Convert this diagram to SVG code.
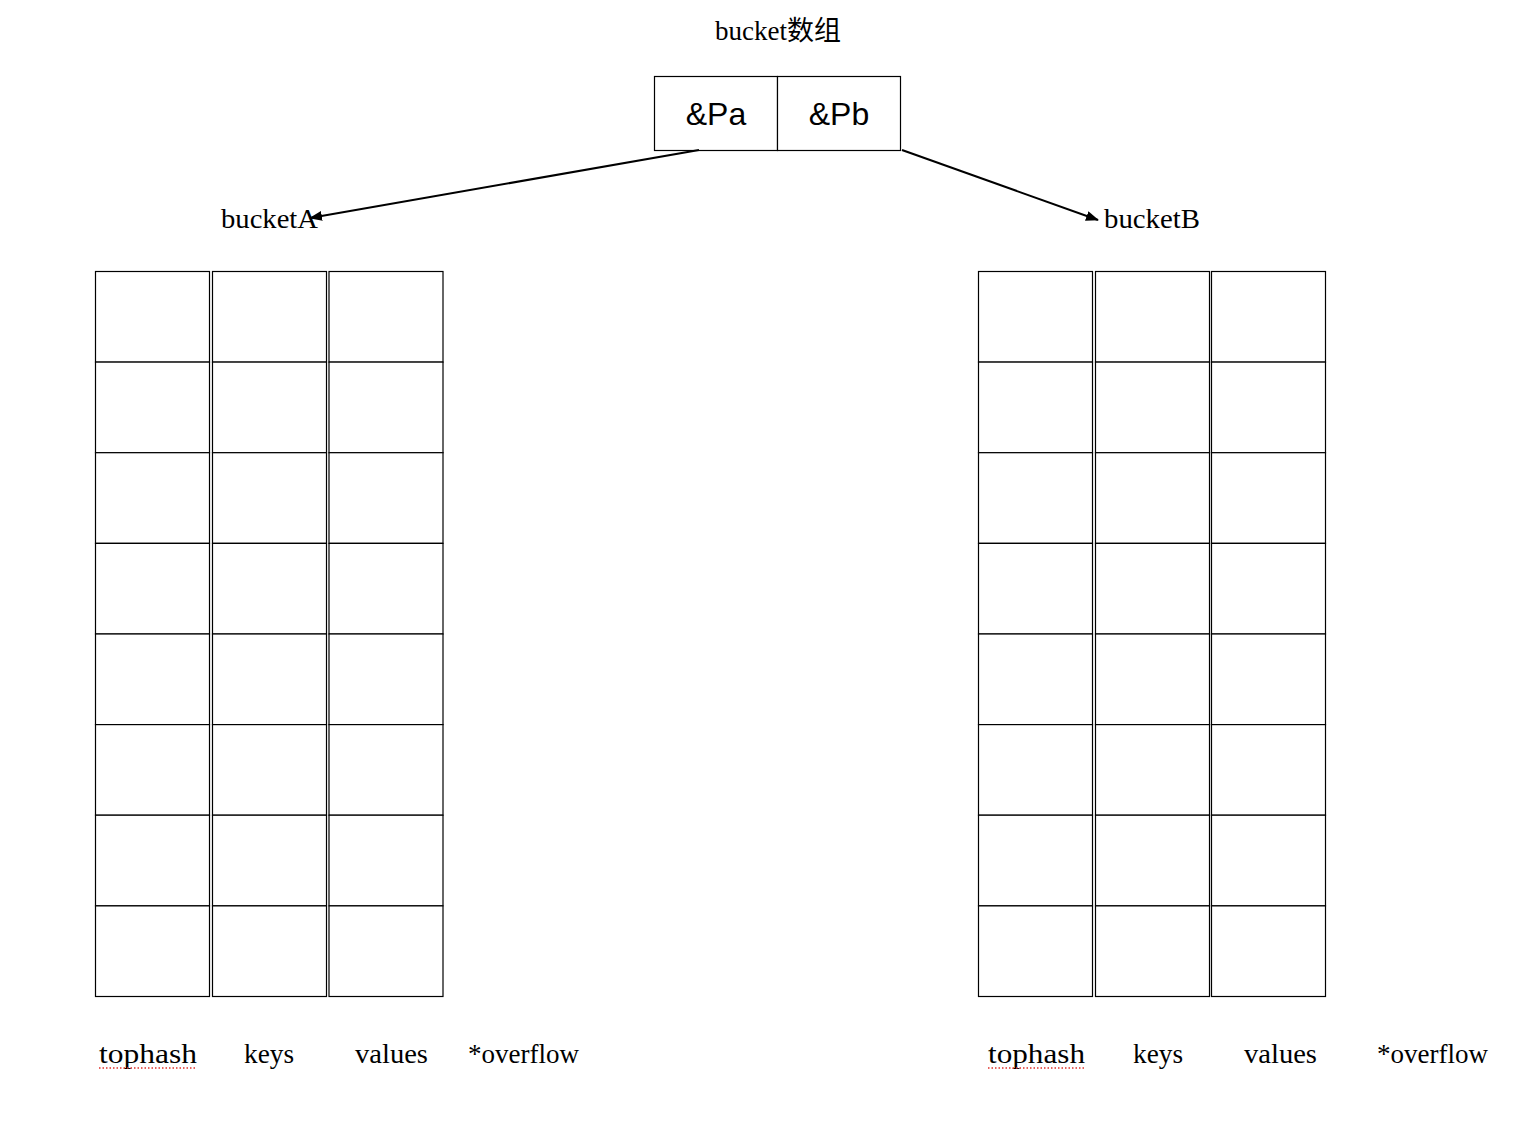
<svg xmlns="http://www.w3.org/2000/svg" width="1522" height="1126" viewBox="0 0 1522 1126">
<style>
.cell{fill:#fff;stroke:#000;stroke-width:1.2}
.lbl{font-family:"Liberation Serif","Noto Sans CJK SC",serif;font-size:27px;fill:#000}
.ptr{font-family:"Liberation Sans","DejaVu Sans",sans-serif;font-size:32px;fill:#000}
.conn{stroke:#000;stroke-width:2;fill:none}
.spell{stroke:#e0302a;stroke-width:1.5;stroke-dasharray:1.5 2;fill:none}
</style>
<defs>
<marker id="ah" viewBox="0 0 13 10" refX="12" refY="5" markerWidth="13" markerHeight="10" markerUnits="userSpaceOnUse" orient="auto">
<path d="M0,0 L13,5 L0,10 Z" fill="#000"/>
</marker>
<g id="colA">
<rect class="cell" x="0" y="0" width="114" height="90.6"/>
<rect class="cell" x="0" y="90.6" width="114" height="90.6"/>
<rect class="cell" x="0" y="181.2" width="114" height="90.6"/>
<rect class="cell" x="0" y="271.9" width="114" height="90.6"/>
<rect class="cell" x="0" y="362.5" width="114" height="90.6"/>
<rect class="cell" x="0" y="453.1" width="114" height="90.6"/>
<rect class="cell" x="0" y="543.7" width="114" height="90.6"/>
<rect class="cell" x="0" y="634.4" width="114" height="90.6"/>
</g>
</defs>

<g id="title">
<text class="lbl" x="778" y="40" text-anchor="middle" font-size="26">bucket数组</text>
</g>

<g id="bucketArray">
<rect class="cell" x="654.5" y="76.5" width="123" height="74"/>
<rect class="cell" x="777.5" y="76.5" width="123" height="74"/>
<text class="ptr" x="716" y="125" text-anchor="middle">&amp;Pa</text>
<text class="ptr" x="839" y="125" text-anchor="middle">&amp;Pb</text>
</g>

<g id="connectors">
<line class="conn" x1="699" y1="150" x2="310" y2="218" marker-end="url(#ah)"/>
<line class="conn" x1="902" y1="150" x2="1098" y2="220" marker-end="url(#ah)"/>
</g>

<g id="bucketA">
<text class="lbl" x="221" y="228" textLength="97" lengthAdjust="spacingAndGlyphs">bucketA</text>
<use href="#colA" x="95.5" y="271.5"/>
<use href="#colA" x="212.5" y="271.5"/>
<use href="#colA" x="329" y="271.5"/>
<text class="lbl" x="99" y="1063" textLength="98" lengthAdjust="spacingAndGlyphs">tophash</text>
<path class="spell" d="M99,1068 H197"/>
<text class="lbl" x="244" y="1063" textLength="50" lengthAdjust="spacingAndGlyphs">keys</text>
<text class="lbl" x="355" y="1063" textLength="73" lengthAdjust="spacingAndGlyphs">values</text>
<text class="lbl" x="468" y="1063" textLength="111" lengthAdjust="spacingAndGlyphs">*overflow</text>
</g>

<g id="bucketB">
<text class="lbl" x="1104" y="228" textLength="96" lengthAdjust="spacingAndGlyphs">bucketB</text>
<use href="#colA" x="978.5" y="271.5"/>
<use href="#colA" x="1095.5" y="271.5"/>
<use href="#colA" x="1211.5" y="271.5"/>
<text class="lbl" x="988" y="1063" textLength="97" lengthAdjust="spacingAndGlyphs">tophash</text>
<path class="spell" d="M988,1068 H1085"/>
<text class="lbl" x="1133" y="1063" textLength="50" lengthAdjust="spacingAndGlyphs">keys</text>
<text class="lbl" x="1244" y="1063" textLength="73" lengthAdjust="spacingAndGlyphs">values</text>
<text class="lbl" x="1377" y="1063" textLength="111" lengthAdjust="spacingAndGlyphs">*overflow</text>
</g>
</svg>
